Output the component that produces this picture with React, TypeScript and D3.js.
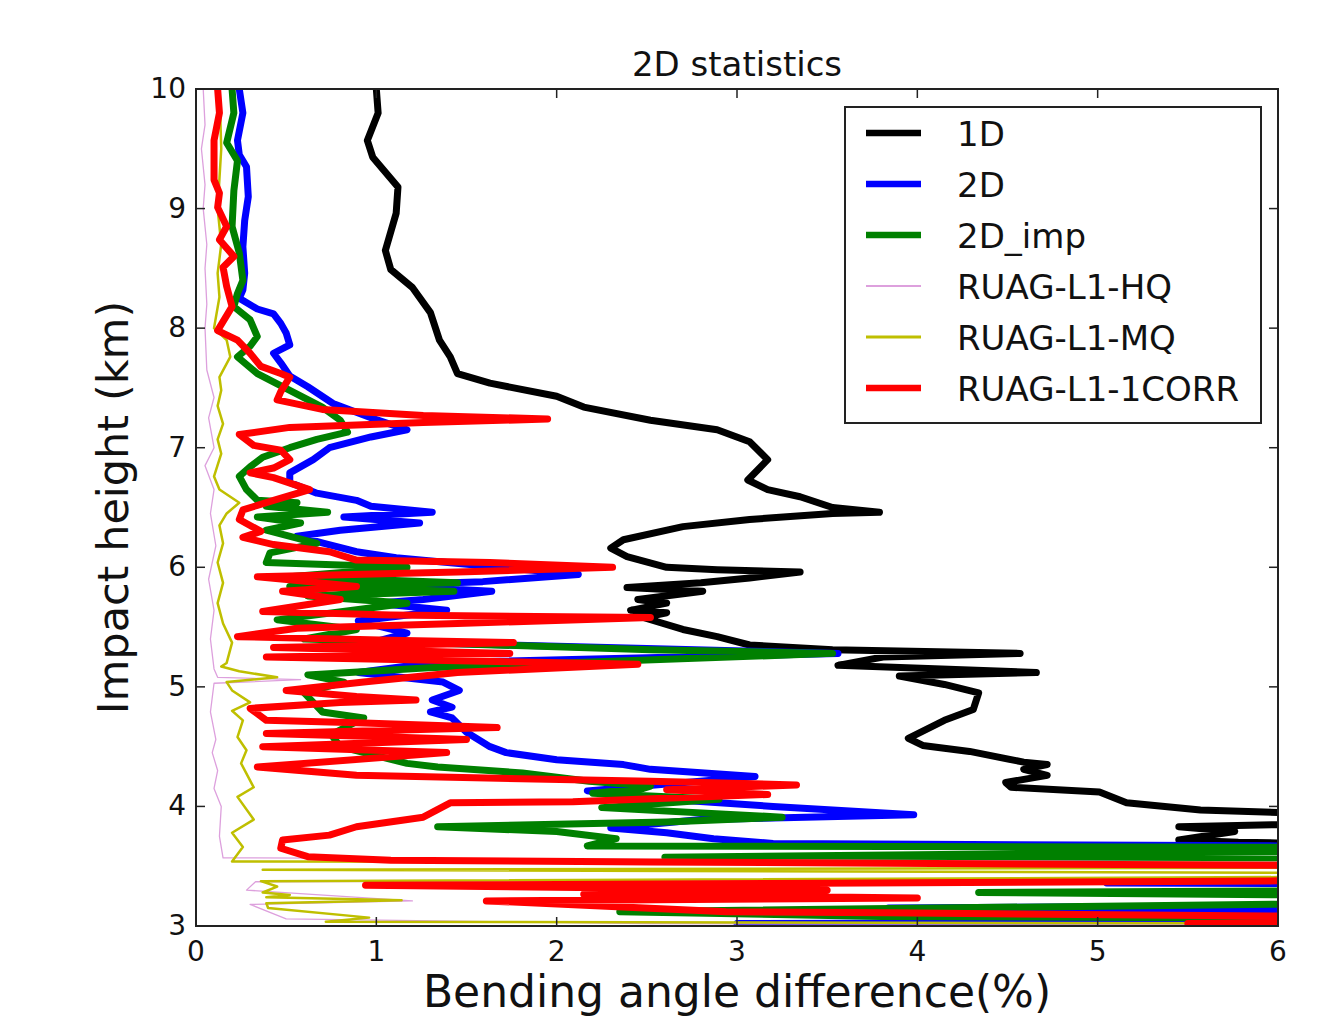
import React from 'react';
import * as d3 from 'd3';

type P = [number, number]; // [bending angle difference %, impact height km]

const xTicks = [0, 1, 2, 3, 4, 5, 6];
const yTicks = [3, 4, 5, 6, 7, 8, 9, 10];

const data1D: P[] = [
  [1.0, 10], [1.01, 9.8], [0.95, 9.57], [0.98, 9.43], [1.12, 9.18], [1.11, 8.96], [1.05, 8.65], [1.08, 8.49],
  [1.2, 8.34], [1.3, 8.13], [1.35, 7.9], [1.41, 7.76], [1.45, 7.62], [1.63, 7.54], [2.0, 7.43], [2.15, 7.34],
  [2.52, 7.23], [2.89, 7.15], [3.07, 7.05], [3.17, 6.9], [3.06, 6.73], [3.17, 6.65], [3.35, 6.59], [3.53, 6.5],
  [3.79, 6.46], [3.53, 6.45], [3.07, 6.4], [2.7, 6.34], [2.37, 6.23], [2.3, 6.16], [2.39, 6.09], [2.61, 6.0],
  [2.89, 5.98], [3.35, 5.96], [3.07, 5.91], [2.8, 5.87], [2.39, 5.83], [2.81, 5.8], [2.45, 5.73], [2.61, 5.7],
  [2.41, 5.64], [2.61, 5.62], [2.48, 5.58], [2.7, 5.48], [2.89, 5.42], [3.07, 5.35], [3.53, 5.31], [4.57, 5.28],
  [3.81, 5.25], [3.56, 5.18], [4.66, 5.12], [3.9, 5.09], [4.15, 5.02], [4.34, 4.95], [4.31, 4.81], [4.15, 4.72],
  [3.95, 4.57], [4.03, 4.51], [4.29, 4.46], [4.59, 4.37], [4.72, 4.35], [4.59, 4.31], [4.72, 4.26], [4.49, 4.2],
  [4.52, 4.16], [5.01, 4.12], [5.16, 4.03], [5.57, 3.97], [6.0, 3.95], [7, 3.93], [7, 3.88], [5.45, 3.83],
  [5.76, 3.79], [5.45, 3.72], [5.78, 3.7], [7, 3.67], [7, 3.15], [5.15, 3.12], [7, 3.09], [7, 3.0],
];

const data2D: P[] = [
  [0.24, 10], [0.26, 9.8], [0.23, 9.57], [0.24, 9.45], [0.28, 9.35], [0.29, 9.1], [0.27, 8.9], [0.26, 8.68],
  [0.27, 8.46], [0.26, 8.32], [0.24, 8.25], [0.34, 8.16], [0.43, 8.12], [0.47, 8.04], [0.5, 7.96], [0.52, 7.86],
  [0.43, 7.79], [0.47, 7.71], [0.52, 7.6], [0.62, 7.51], [0.76, 7.37], [0.97, 7.25], [1.17, 7.15], [0.97, 7.09],
  [0.74, 7.0], [0.65, 6.9], [0.52, 6.79], [0.52, 6.71], [0.67, 6.62], [0.89, 6.56], [0.97, 6.51], [1.31, 6.46],
  [0.82, 6.42], [1.24, 6.37], [0.8, 6.31], [0.56, 6.26], [0.71, 6.2], [0.89, 6.13], [1.11, 6.08], [2.12, 5.94],
  [1.59, 5.88], [1.0, 5.85], [1.64, 5.8], [1.26, 5.73], [1.0, 5.7], [1.39, 5.64], [0.9, 5.55], [1.17, 5.45],
  [1.0, 5.38], [2.5, 5.32], [3.56, 5.28], [1.3, 5.2], [0.9, 5.12], [1.37, 5.04], [1.46, 4.97], [1.31, 4.89],
  [1.42, 4.83], [1.3, 4.79], [1.42, 4.74], [1.5, 4.62], [1.63, 4.5], [1.72, 4.45], [2.0, 4.39], [2.37, 4.35],
  [2.52, 4.31], [3.1, 4.25], [2.17, 4.13], [2.4, 4.08], [3.2, 4.0], [3.98, 3.93], [2.8, 3.89], [2.3, 3.82],
  [2.61, 3.78], [2.87, 3.73], [3.2, 3.69], [6, 3.67], [7, 3.665], [7, 3.37], [5.05, 3.36], [7, 3.35],
  [7, 3.18], [3.84, 3.15], [7, 3.12], [7, 3.04], [3.0, 3.02], [4.5, 3.0],
];

const data2DImp: P[] = [
  [0.2, 10], [0.21, 9.8], [0.17, 9.55], [0.23, 9.4], [0.21, 9.15], [0.2, 8.85], [0.24, 8.63], [0.26, 8.4],
  [0.23, 8.29], [0.21, 8.18], [0.3, 8.07], [0.34, 7.93], [0.3, 7.85], [0.23, 7.76], [0.34, 7.62], [0.52, 7.48],
  [0.7, 7.34], [0.8, 7.23], [0.84, 7.13], [0.67, 7.07], [0.52, 7.0], [0.37, 6.92], [0.3, 6.84], [0.24, 6.76],
  [0.28, 6.65], [0.34, 6.56], [0.56, 6.54], [0.39, 6.51], [0.73, 6.46], [0.34, 6.42], [0.58, 6.37], [0.39, 6.31],
  [0.67, 6.2], [0.41, 6.12], [0.39, 6.04], [1.17, 6.0], [0.52, 5.92], [1.45, 5.87], [0.52, 5.84], [1.43, 5.8],
  [0.62, 5.76], [1.17, 5.7], [0.45, 5.56], [0.89, 5.48], [0.6, 5.4], [2.52, 5.31], [3.53, 5.28], [1.29, 5.16],
  [0.62, 5.1], [0.82, 5.04], [0.6, 4.95], [0.7, 4.79], [0.93, 4.74], [0.75, 4.6], [0.8, 4.5], [1.17, 4.36],
  [1.34, 4.33], [1.81, 4.28], [2.18, 4.21], [2.52, 4.17], [2.48, 4.15], [2.2, 4.11], [2.9, 4.06], [2.25, 3.99],
  [3.25, 3.91], [2.61, 3.87], [1.34, 3.83], [2.0, 3.79], [2.33, 3.73], [2.17, 3.67], [7, 3.655], [7, 3.63],
  [4.57, 3.605], [2.6, 3.575], [7, 3.55], [7, 3.3], [4.34, 3.28], [7, 3.25], [7, 3.2], [2.35, 3.12],
  [3.8, 3.08], [7, 3.06], [7, 3.0],
];

const dataHQ: P[] = [
  [0.04, 10], [0.05, 9.7], [0.03, 9.5], [0.05, 9.2], [0.04, 9.0], [0.06, 8.7], [0.05, 8.5], [0.06, 8.2],
  [0.05, 8.0], [0.06, 7.65], [0.1, 7.42], [0.07, 7.25], [0.1, 7.0], [0.05, 6.85], [0.1, 6.65], [0.08, 6.45],
  [0.11, 6.18], [0.07, 5.9], [0.1, 5.64], [0.08, 5.4], [0.1, 5.15], [0.12, 5.08], [0.58, 5.06], [0.1, 5.03],
  [0.08, 4.79], [0.11, 4.56], [0.09, 4.45], [0.12, 4.3], [0.1, 4.15], [0.14, 4.0], [0.13, 3.75], [0.15, 3.57],
  [7, 3.53], [7, 3.4], [0.33, 3.37], [0.28, 3.3], [1.2, 3.21], [0.3, 3.18], [0.5, 3.06], [2.5, 3.02], [7, 3.01],
];

const dataMQ: P[] = [
  [0.13, 10], [0.14, 9.5], [0.12, 9.0], [0.14, 8.7], [0.12, 8.46], [0.13, 8.26], [0.1, 8.0], [0.17, 7.9],
  [0.19, 7.76], [0.13, 7.59], [0.14, 7.48], [0.12, 7.35], [0.15, 7.2], [0.12, 7.07], [0.14, 6.95], [0.1, 6.76],
  [0.13, 6.65], [0.24, 6.54], [0.17, 6.45], [0.13, 6.35], [0.15, 6.2], [0.12, 6.04], [0.15, 5.87], [0.12, 5.7],
  [0.15, 5.53], [0.2, 5.37], [0.17, 5.2], [0.14, 5.17], [0.24, 5.13], [0.45, 5.08], [0.17, 5.04], [0.2, 4.97],
  [0.3, 4.87], [0.2, 4.8], [0.26, 4.72], [0.23, 4.58], [0.28, 4.47], [0.25, 4.36], [0.32, 4.16], [0.23, 4.08],
  [0.32, 3.89], [0.2, 3.78], [0.26, 3.66], [0.2, 3.54], [7, 3.525], [7, 3.49], [0.37, 3.47], [7, 3.44],
  [7, 3.415], [0.36, 3.375], [0.45, 3.33], [0.37, 3.28], [0.52, 3.26], [0.39, 3.24], [1.14, 3.215], [0.39, 3.19],
  [0.4, 3.15], [0.96, 3.07], [0.72, 3.035], [7, 3.02],
];

const data1CORR: P[] = [
  [0.12, 10], [0.13, 9.8], [0.1, 9.57], [0.1, 9.24], [0.13, 9.13], [0.12, 9.01], [0.17, 8.85], [0.13, 8.74],
  [0.21, 8.6], [0.15, 8.51], [0.17, 8.35], [0.2, 8.18], [0.12, 7.98], [0.23, 7.9], [0.3, 7.79], [0.36, 7.68],
  [0.47, 7.62], [0.52, 7.59], [0.47, 7.47], [0.45, 7.4], [0.7, 7.32], [1.26, 7.27], [1.95, 7.24], [1.26, 7.21],
  [0.52, 7.17], [0.24, 7.11], [0.32, 7.02], [0.47, 6.98], [0.52, 6.9], [0.43, 6.83], [0.3, 6.79], [0.43, 6.75],
  [0.63, 6.65], [0.43, 6.56], [0.26, 6.48], [0.24, 6.4], [0.36, 6.3], [0.26, 6.25], [0.43, 6.19], [0.74, 6.13],
  [0.89, 6.06], [1.63, 6.04], [2.31, 6.0], [1.45, 5.96], [0.34, 5.92], [0.62, 5.88], [0.89, 5.84], [0.48, 5.8],
  [0.8, 5.73], [0.37, 5.63], [1.08, 5.6], [2.52, 5.58], [1.45, 5.53], [0.56, 5.49], [0.23, 5.42], [1.08, 5.39],
  [1.76, 5.37], [0.43, 5.33], [1.74, 5.28], [0.39, 5.25], [2.45, 5.19], [1.45, 5.12], [0.93, 5.04], [0.5, 4.97],
  [0.89, 4.92], [1.22, 4.89], [0.8, 4.87], [0.3, 4.82], [0.39, 4.72], [0.89, 4.7], [1.67, 4.66], [0.39, 4.61],
  [1.08, 4.58], [1.5, 4.56], [0.37, 4.5], [1.39, 4.45], [0.34, 4.33], [0.89, 4.26], [2.52, 4.21], [3.33, 4.18],
  [2.61, 4.14], [3.17, 4.1], [2.09, 4.04], [1.41, 4.03], [1.26, 3.91], [0.89, 3.83], [0.74, 3.76], [0.48, 3.72],
  [0.47, 3.65], [0.62, 3.58], [1.08, 3.55], [2.52, 3.535], [7, 3.5], [7, 3.385], [0.94, 3.34], [3.5, 3.3],
  [2.15, 3.265], [4.0, 3.235], [1.61, 3.21], [2.94, 3.12], [3.84, 3.11], [7, 3.07], [7, 3.04], [5.5, 3.02], [7, 3.0],
];

const seriesNames = ['1D', '2D', '2D_imp', 'RUAG-L1-HQ', 'RUAG-L1-MQ', 'RUAG-L1-1CORR'];
const seriesData = [data1D, data2D, data2DImp, dataHQ, dataMQ, data1CORR];
const seriesColors = ['#000000', '#0000ff', '#008000', '#dda0dd', '#bfbf00', '#ff0000'];
const seriesWidths = [7, 7, 7, 1.3, 2.5, 7];
const legendWidths = [6.5, 6.5, 6.5, 2, 3, 6.5];

const FONT = "'DejaVu Sans', sans-serif";

export default function App() {
  const left = 196, right = 1278, top = 89, bottom = 926;
  const x = d3.scaleLinear().domain([0, 6]).range([left, right]);
  const y = d3.scaleLinear().domain([3, 10]).range([bottom, top]);
  const line = d3.line<P>().x((d) => x(d[0])).y((d) => y(d[1]));

  const legX = 845, legY = 107, legW = 416, legH = 316;
  const rowY = (i: number) => 133 + i * 51;

  return (
    <svg width={1336} height={1019} style={{ position: 'absolute', left: 0, top: 0, background: '#fff' }}
      fontFamily={FONT}>
      <defs>
        <clipPath id="plotclip">
          <rect x={left} y={top} width={right - left} height={bottom - top} />
        </clipPath>
      </defs>
      <rect x={0} y={0} width={1336} height={1019} fill="#fff" />
      <g clipPath="url(#plotclip)">
        {seriesData.map((d, i) => (
          <path key={seriesNames[i]} d={line(d) || ''} fill="none" stroke={seriesColors[i]}
            strokeWidth={seriesWidths[i]} strokeLinejoin="round" strokeLinecap="round" />
        ))}
      </g>
      {/* frame */}
      <rect x={left} y={top} width={right - left} height={bottom - top} fill="none" stroke="#222" strokeWidth={2} />
      {/* ticks */}
      {xTicks.map((t) => (
        <g key={'x' + t}>
          <line x1={x(t)} x2={x(t)} y1={bottom} y2={bottom - 9} stroke="#222" strokeWidth={1.5} />
          <line x1={x(t)} x2={x(t)} y1={top} y2={top + 9} stroke="#222" strokeWidth={1.5} />
          <text x={x(t)} y={961} fontSize={28} textAnchor="middle" fill="#111">{t}</text>
        </g>
      ))}
      {yTicks.map((t) => (
        <g key={'y' + t}>
          <line x1={left} x2={left + 9} y1={y(t)} y2={y(t)} stroke="#222" strokeWidth={1.5} />
          <line x1={right} x2={right - 9} y1={y(t)} y2={y(t)} stroke="#222" strokeWidth={1.5} />
          <text x={186} y={y(t) + 9} fontSize={28} textAnchor="end" fill="#111">{t}</text>
        </g>
      ))}
      {/* title and labels */}
      <text x={(left + right) / 2} y={76} fontSize={34} textAnchor="middle" fill="#111">2D statistics</text>
      <text x={(left + right) / 2} y={1007} fontSize={44} textAnchor="middle" fill="#111">Bending angle difference(%)</text>
      <text transform={`translate(128, ${(top + bottom) / 2}) rotate(-90)`} fontSize={43} textAnchor="middle" fill="#111">
        Impact height (km)
      </text>
      {/* legend */}
      <rect x={legX} y={legY} width={legW} height={legH} fill="#fff" stroke="#222" strokeWidth={2} />
      {seriesNames.map((n, i) => (
        <g key={'leg' + n}>
          <line x1={866} x2={921} y1={rowY(i)} y2={rowY(i)} stroke={seriesColors[i]} strokeWidth={legendWidths[i]} />
          <text x={957} y={rowY(i) + 13} fontSize={34} fill="#111">{n}</text>
        </g>
      ))}
    </svg>
  );
}
